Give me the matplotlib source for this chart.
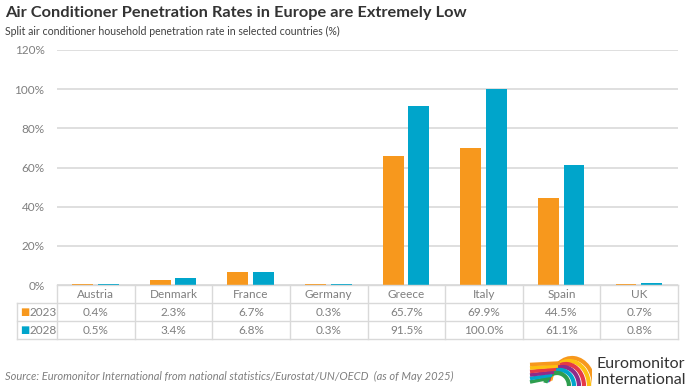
import matplotlib.pyplot as plt
import numpy as np
from matplotlib.patches import Arc

countries = ['Austria', 'Denmark', 'France', 'Germany', 'Greece', 'Italy', 'Spain', 'UK']
rate_2023 = [0.4, 2.3, 6.7, 0.3, 65.7, 69.9, 44.5, 0.7]
rate_2028 = [0.5, 3.4, 6.8, 0.3, 91.5, 100.0, 61.1, 0.8]
years = ['2023', '2028']
yticks = [0, 20, 40, 60, 80, 100, 120]

ORANGE = '#F7981D'
BLUE = '#00A5CB'
GRID = '#D9D9D9'
GREY = '#7F7F7F'

plt.rcParams['font.family'] = ['Lato', 'DejaVu Sans']

W, H = 700, 392
fig = plt.figure(figsize=(7, 3.92), dpi=100)
L, R = 57 / W, 678 / W
ax = fig.add_axes([L, 1 - 285 / H, R - L, (285 - 50) / H])

x = np.arange(len(countries))
bw = 0.27
ax.bar(x - 0.17, rate_2023, bw, color=ORANGE, zorder=3)
ax.bar(x + 0.16, rate_2028, bw, color=BLUE, zorder=3)

ax.set_xlim(-0.5, len(countries) - 0.5)
ax.set_ylim(0, 120)
ax.set_yticks(yticks)
ax.set_yticklabels([f'{t}%' for t in yticks], color=GREY, fontsize=8.5)
ax.tick_params(axis='y', length=0, pad=9)
ax.set_xticks([])
ax.grid(axis='y', color=GRID, linewidth=1.2, zorder=0)
for s in ax.spines.values():
    s.set_visible(False)

# data table under the chart (pixel rows)
row_y = [285, 303, 321, 339]
tl = 17 / W


def fy(py):
    return 1 - py / H


def fx(i):
    return L + (R - L) * i / len(countries)


line_kw = dict(color=GRID, linewidth=1.0, transform=fig.transFigure)
for py in row_y[1:]:
    fig.add_artist(plt.Line2D([tl, R], [fy(py), fy(py)], **line_kw))
fig.add_artist(plt.Line2D([L, R], [fy(row_y[0]), fy(row_y[0])], **line_kw))
for i in range(len(countries) + 1):
    fig.add_artist(plt.Line2D([fx(i), fx(i)], [fy(285), fy(339)], **line_kw))
fig.add_artist(plt.Line2D([tl, tl], [fy(303), fy(339)], **line_kw))

for i, c in enumerate(countries):
    cx = (fx(i) + fx(i + 1)) / 2
    fig.text(cx, fy(294), c, ha='center', va='center', fontsize=8.5, color=GREY)
    fig.text(cx, fy(312), f'{rate_2023[i]:.1f}%', ha='center', va='center', fontsize=8.5, color=GREY)
    fig.text(cx, fy(330), f'{rate_2028[i]:.1f}%', ha='center', va='center', fontsize=8.5, color=GREY)

for yr, col, py in zip(years, [ORANGE, BLUE], [312, 330]):
    fig.text(20 / W, fy(py), '\u25A0', ha='left', va='center', fontsize=7, color=col, family='DejaVu Sans')
    fig.text(30 / W, fy(py), yr, ha='left', va='center', fontsize=8.5, color=GREY)

fig.text(5 / W, fy(13), 'Air Conditioner Penetration Rates in Europe are Extremely Low',
         fontsize=11.8, fontweight='bold', color='#333333', va='center')
fig.text(5 / W, fy(31), 'Split air conditioner household penetration rate in selected countries (%)',
         fontsize=7.6, color='#404040', va='center')
fig.text(5 / W, fy(376), 'Source: Euromonitor International from national statistics/Eurostat/UN/OECD  (as of May 2025)',
         fontsize=8, style='italic', color=GREY, va='center')

# logo
lax = fig.add_axes([528 / W, 1 - 388 / H, 64 / W, 34 / H])
lax.set_xlim(0, 64)
lax.set_ylim(0, 34)
lax.axis('off')
logo_cols = ['#F7981D', '#FDC010', '#E63946', '#8E2C8A', '#00A5CB', '#2E9E4F']
for k, col in enumerate(logo_cols):
    lax.add_patch(Arc((44 - k * 3, 2), 44 - k * 4, 56 - k * 6, theta1=0, theta2=165,
                      color=col, linewidth=3.0))
    lax.plot([2, 22 + k * 2], [6 + k * 3.5, 10 + k * 3], color=logo_cols[-1 - k], linewidth=2.6,
             solid_capstyle='butt')
fig.text(597 / W, fy(364), 'Euromonitor', fontsize=11.5, color='#333333', va='center')
fig.text(597 / W, fy(380), 'International', fontsize=11.5, color='#333333', va='center')

fig.savefig('out.png', dpi=100)
